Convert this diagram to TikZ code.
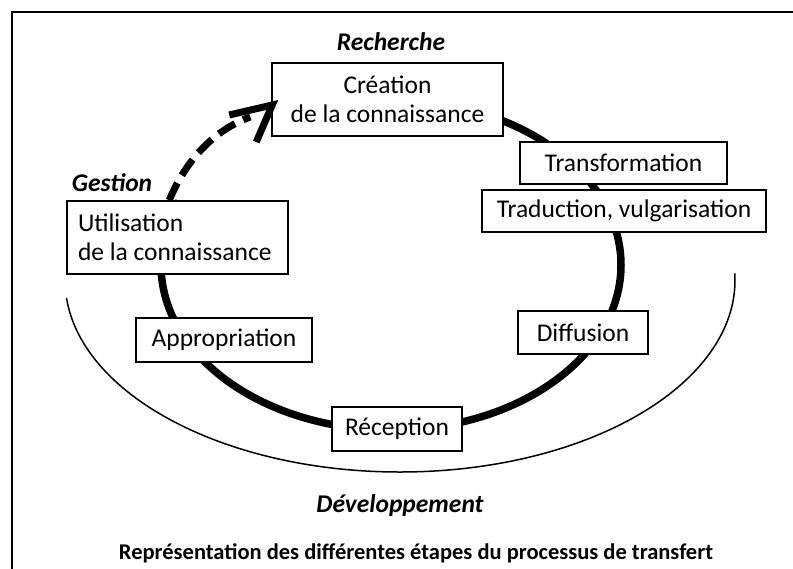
\documentclass[tikz,border=0pt]{standalone}
\usepackage{fontspec}
\setmainfont{Carlito}
\usetikzlibrary{calc}
\hbadness=10000 \hfuzz=20pt
\begin{document}
\begin{tikzpicture}[x=1pt,y=-1pt,
  stagebox/.style={draw, line width=1.5pt, fill=white, inner sep=0pt,
    font=\fontsize{25.5}{29}\selectfont},
  phase/.style={font=\fontsize{25.5}{29}\selectfont\bfseries\itshape},
  cycle/.style={line width=7.5pt},
  thinarc/.style={line width=1.5pt},
  dasharrow/.style={line width=7pt, dash pattern=on 19pt off 9pt},
  headline/.style={line width=7pt, line join=miter}]
\useasboundingbox (0,0) rectangle (793,568);
% frame
\draw[line width=2.5pt] (12,575) -- (12,12) -- (800,12);
% thin outer arc
\coordinate (tarcstart) at (734.8,273.3);
\draw[thinarc] (tarcstart) arc[start angle=-2, end angle=174.6, x radius=335, y radius=192];
% thick cycle
\coordinate (cyctop) at (391,100);
\draw[cycle] (cyctop) arc[start angle=-90, end angle=202.8, x radius=230, y radius=165];
% boxes
\node[stagebox, minimum width=231pt, minimum height=73pt, align=center] (cre) at (387.5,99.5) {Création\\de la connaissance};
\node[stagebox, minimum width=207pt, minimum height=42pt] (tra) at (623.5,163) {Transformation};
\node[stagebox, minimum width=284pt, minimum height=42pt] (trad) at (624,211) {Traduction, vulgarisation};
\node[stagebox, minimum width=221pt, minimum height=73pt, inner xsep=11pt, text width=199pt, align=left] (uti) at (177.5,237.5) {\spaceskip=0pt\xspaceskip=0pt\relax Utilisation\\\mbox{de la connaissance}};
\node[stagebox, minimum width=176pt, minimum height=44pt] (app) at (224,340) {Appropriation};
\node[stagebox, minimum width=130pt, minimum height=43pt] (dif) at (583,332.5) {Diffusion};
\node[stagebox, minimum width=130pt, minimum height=44pt] (rec) at (397,429) {Réception};
% phase labels
\node[phase] (lrech) at (391,42) {Recherche};
\node[phase] (lgest) at (112,183) {Gestion};
\node[phase] (ldev) at (400,506) {Développement};
\node[font=\fontsize{22.5}{27}\selectfont\bfseries] (cap) at (416,553) {Représentation des différentes étapes du processus de transfert};
% dashed arrow from Utilisation to Création
\coordinate (dstart) at ($(uti.north west)+(103,0)$);
\coordinate (tip) at ($(cre.west)+(1,5.5)$);
\draw[dasharrow] (dstart) .. controls (186,160) and (214,130) .. ($(tip)+(-22,12)$);
\draw[headline] ($(tip)+(-43,10)$) -- (tip) -- ($(tip)+(-16,37)$);
\end{tikzpicture}
\end{document}
